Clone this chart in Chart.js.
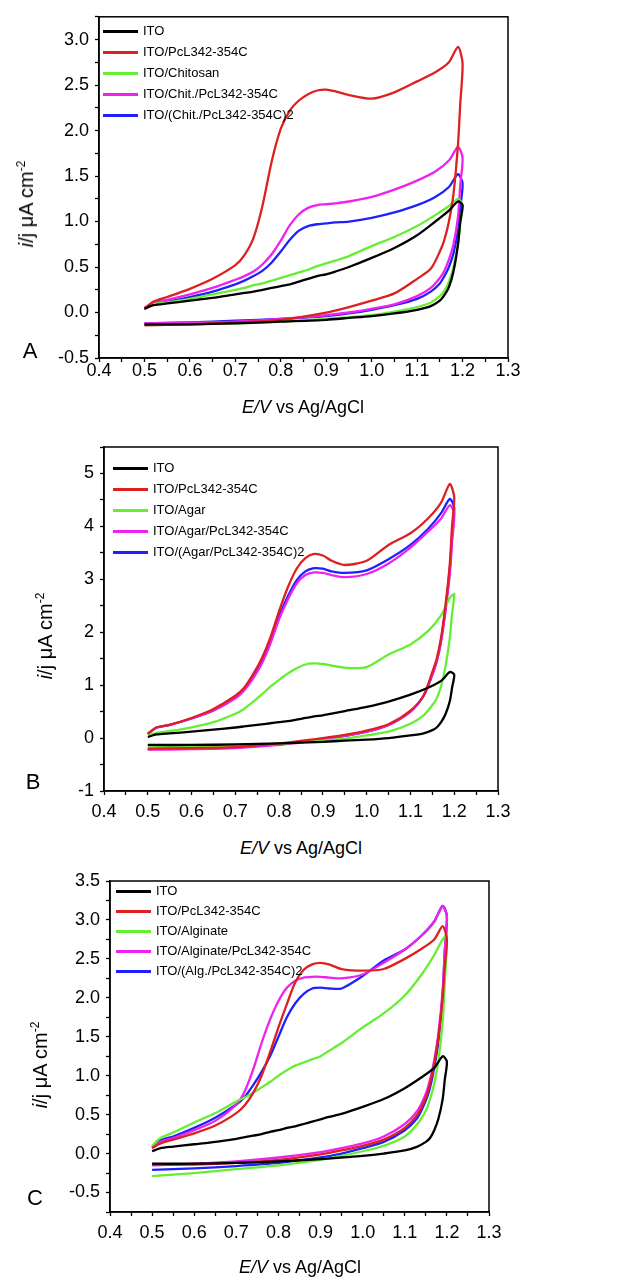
<!DOCTYPE html>
<html>
<head>
<meta charset="utf-8">
<script src="https://cdn.jsdelivr.net/npm/chart.js@4.4.1/dist/chart.umd.min.js"></script>
<style>
  body { margin: 0; background: #fff; width: 617px; height: 1278px; position: relative; overflow: hidden;
         font-family: Arial, "Liberation Sans", sans-serif; color: #000; }
  canvas { position: absolute; left: 0; }
  .txt { position: absolute; white-space: nowrap; line-height: 1; }
  .leg { position: absolute; font-size: 13px; white-space: nowrap; line-height: 1; }
  .leg span { position: absolute; top: -1.5px; height: 3px; width: 35px; left: 0; }
  .leg b { font-weight: normal; position: absolute; left: 40px; top: -7px; }
  sup { font-size: 12px; vertical-align: 8px; line-height: 0; }
</style>
</head>
<body>
<canvas id="cvA" width="617" height="400" style="top:0px"></canvas>
<canvas id="cvB" width="617" height="410" style="top:420px"></canvas>
<canvas id="cvC" width="617" height="400" style="top:860px"></canvas>
<script>
// potential of each point: forward scan 0.5 -> 1.2 V, then reverse scan back to 0.5 V
var forwardE = [0.50, 0.52, 0.55, 0.60, 0.65, 0.70, 0.72, 0.74, 0.76, 0.78, 0.80, 0.82, 0.84, 0.86, 0.88, 0.90, 0.92, 0.95, 1.00, 1.05, 1.10, 1.14, 1.17, 1.19, 1.20];
var reverseE = [1.195, 1.19, 1.18, 1.17, 1.16, 1.15, 1.13, 1.10, 1.05, 1.00, 0.95, 0.90, 0.80, 0.70, 0.60, 0.50];

var seriesColors = ["#000000", "#dd2020", "#66ee33", "#ee22ee", "#2020ff"];

// ---- panel A (chitosan) ----
var labelsA = ["ITO", "ITO/PcL342-354C", "ITO/Chitosan", "ITO/Chit./PcL342-354C", "ITO/(Chit./PcL342-354C)2"];
var itoA_fwd = [0.04, 0.08, 0.10, 0.13, 0.16, 0.20, 0.215, 0.23, 0.25, 0.27, 0.29, 0.31, 0.34, 0.37, 0.40, 0.42, 0.45, 0.50, 0.60, 0.71, 0.85, 1.00, 1.12, 1.22, 1.18];
var itoA_rev = [1.00, 0.75, 0.45, 0.28, 0.19, 0.13, 0.07, 0.03, -0.01, -0.04, -0.06, -0.08, -0.10, -0.12, -0.13, -0.13];
var pclA_fwd = [0.04, 0.12, 0.17, 0.26, 0.37, 0.52, 0.63, 0.82, 1.18, 1.66, 2.02, 2.22, 2.33, 2.40, 2.44, 2.45, 2.43, 2.39, 2.35, 2.42, 2.54, 2.64, 2.75, 2.92, 2.74];
var pclA_rev = [2.30, 1.85, 1.30, 1.00, 0.80, 0.67, 0.48, 0.37, 0.21, 0.13, 0.06, 0.00, -0.08, -0.11, -0.13, -0.14];
var chitA_fwd = [0.04, 0.09, 0.11, 0.15, 0.20, 0.25, 0.27, 0.30, 0.32, 0.35, 0.38, 0.41, 0.44, 0.47, 0.51, 0.54, 0.57, 0.62, 0.73, 0.83, 0.95, 1.07, 1.17, 1.25, 1.18];
var chitA_rev = [0.98, 0.75, 0.50, 0.34, 0.24, 0.18, 0.11, 0.06, 0.01, -0.03, -0.05, -0.07, -0.10, -0.12, -0.13, -0.13];
var chitPclA_fwd = [0.05, 0.11, 0.14, 0.20, 0.27, 0.36, 0.40, 0.45, 0.53, 0.64, 0.79, 0.96, 1.08, 1.15, 1.18, 1.19, 1.20, 1.22, 1.27, 1.35, 1.45, 1.55, 1.67, 1.82, 1.70];
var chitPclA_rev = [1.40, 1.05, 0.75, 0.58, 0.46, 0.38, 0.27, 0.18, 0.09, 0.04, 0.00, -0.03, -0.07, -0.10, -0.11, -0.12];
var chitPcl2A_fwd = [0.04, 0.09, 0.12, 0.17, 0.23, 0.31, 0.35, 0.40, 0.46, 0.55, 0.67, 0.80, 0.90, 0.95, 0.97, 0.98, 0.99, 1.00, 1.04, 1.10, 1.18, 1.27, 1.38, 1.52, 1.42];
var chitPcl2A_rev = [1.15, 0.90, 0.65, 0.50, 0.40, 0.32, 0.23, 0.15, 0.08, 0.03, -0.01, -0.04, -0.07, -0.09, -0.11, -0.12];

// ---- panel B (agar) ----
var labelsB = ["ITO", "ITO/PcL342-354C", "ITO/Agar", "ITO/Agar/PcL342-354C", "ITO/(Agar/PcL342-354C)2"];
var itoB_fwd = [0.02, 0.07, 0.09, 0.12, 0.16, 0.20, 0.22, 0.24, 0.26, 0.28, 0.30, 0.32, 0.35, 0.38, 0.41, 0.43, 0.46, 0.51, 0.59, 0.69, 0.82, 0.95, 1.08, 1.25, 1.20];
var itoB_rev = [0.95, 0.70, 0.45, 0.30, 0.20, 0.15, 0.09, 0.05, 0.00, -0.03, -0.05, -0.07, -0.10, -0.12, -0.13, -0.13];
var pclB_fwd = [0.08, 0.20, 0.25, 0.38, 0.55, 0.80, 0.95, 1.20, 1.50, 1.90, 2.40, 2.85, 3.20, 3.40, 3.48, 3.45, 3.35, 3.27, 3.35, 3.65, 3.87, 4.15, 4.45, 4.80, 4.55];
var pclB_rev = [4.00, 3.30, 2.50, 1.90, 1.50, 1.25, 0.80, 0.52, 0.26, 0.14, 0.06, 0.00, -0.10, -0.17, -0.19, -0.20];
var agarB_fwd = [0.05, 0.10, 0.13, 0.20, 0.30, 0.46, 0.55, 0.68, 0.82, 0.97, 1.10, 1.22, 1.32, 1.39, 1.41, 1.40, 1.37, 1.33, 1.34, 1.58, 1.77, 2.02, 2.32, 2.65, 2.72];
var agarB_rev = [2.35, 1.90, 1.35, 0.98, 0.75, 0.62, 0.43, 0.27, 0.12, 0.05, -0.01, -0.05, -0.11, -0.14, -0.15, -0.16];
var agarPclB_fwd = [0.08, 0.20, 0.25, 0.37, 0.52, 0.75, 0.90, 1.12, 1.40, 1.78, 2.25, 2.62, 2.92, 3.08, 3.13, 3.12, 3.08, 3.04, 3.10, 3.30, 3.60, 3.90, 4.15, 4.40, 4.25];
var agarPclB_rev = [3.70, 3.10, 2.40, 1.82, 1.45, 1.20, 0.80, 0.50, 0.25, 0.12, 0.04, -0.03, -0.13, -0.19, -0.21, -0.22];
var agarPcl2B_fwd = [0.08, 0.20, 0.25, 0.37, 0.52, 0.76, 0.92, 1.15, 1.45, 1.83, 2.30, 2.68, 2.98, 3.15, 3.21, 3.20, 3.15, 3.12, 3.17, 3.38, 3.65, 3.95, 4.25, 4.52, 4.35];
var agarPcl2B_rev = [3.80, 3.20, 2.45, 1.85, 1.45, 1.20, 0.80, 0.50, 0.25, 0.12, 0.04, -0.02, -0.12, -0.18, -0.20, -0.21];

// ---- panel C (alginate) ----
var labelsC = ["ITO", "ITO/PcL342-354C", "ITO/Alginate", "ITO/Alginate/PcL342-354C", "ITO/(Alg./PcL342-354C)2"];
var itoC_fwd = [0.03, 0.07, 0.09, 0.12, 0.15, 0.19, 0.21, 0.23, 0.25, 0.28, 0.30, 0.33, 0.35, 0.38, 0.41, 0.44, 0.47, 0.51, 0.60, 0.70, 0.84, 0.98, 1.10, 1.25, 1.18];
var itoC_rev = [0.95, 0.70, 0.45, 0.30, 0.20, 0.15, 0.09, 0.04, 0.00, -0.03, -0.05, -0.07, -0.10, -0.12, -0.13, -0.13];
var pclC_fwd = [0.07, 0.13, 0.18, 0.26, 0.36, 0.52, 0.62, 0.78, 1.00, 1.30, 1.62, 1.92, 2.20, 2.36, 2.43, 2.45, 2.43, 2.37, 2.35, 2.37, 2.50, 2.63, 2.75, 2.92, 2.75];
var pclC_rev = [2.40, 2.00, 1.50, 1.15, 0.90, 0.72, 0.50, 0.33, 0.18, 0.10, 0.04, -0.01, -0.08, -0.12, -0.14, -0.14];
var algC_fwd = [0.10, 0.20, 0.27, 0.40, 0.52, 0.67, 0.72, 0.78, 0.85, 0.92, 1.00, 1.07, 1.13, 1.17, 1.21, 1.25, 1.32, 1.42, 1.62, 1.80, 2.03, 2.30, 2.55, 2.75, 2.80];
var algC_rev = [2.20, 1.70, 1.20, 0.90, 0.70, 0.55, 0.38, 0.22, 0.10, 0.03, -0.03, -0.08, -0.15, -0.20, -0.25, -0.29];
var algPclC_fwd = [0.08, 0.15, 0.20, 0.30, 0.42, 0.63, 0.80, 1.08, 1.42, 1.72, 1.96, 2.13, 2.22, 2.26, 2.27, 2.27, 2.26, 2.25, 2.30, 2.45, 2.62, 2.80, 2.98, 3.18, 3.05];
var algPclC_rev = [2.60, 2.10, 1.55, 1.20, 0.95, 0.77, 0.55, 0.38, 0.22, 0.13, 0.07, 0.02, -0.05, -0.10, -0.13, -0.15];
var algPcl2C_fwd = [0.08, 0.17, 0.22, 0.33, 0.46, 0.63, 0.73, 0.88, 1.05, 1.25, 1.50, 1.75, 1.93, 2.05, 2.12, 2.13, 2.12, 2.12, 2.28, 2.48, 2.62, 2.80, 2.98, 3.18, 3.05];
var algPcl2C_rev = [2.60, 2.05, 1.45, 1.10, 0.85, 0.68, 0.46, 0.30, 0.15, 0.07, 0.00, -0.05, -0.12, -0.16, -0.19, -0.21];

function toPoints(fwd, rev) {
  var pts = [];
  forwardE.forEach((e, i) => pts.push({ x: e, y: fwd[i] }));
  reverseE.forEach((e, i) => pts.push({ x: e, y: rev[i] }));
  return pts;
}

function isMult(v, step) {
  var r = v / step;
  return Math.abs(r - Math.round(r)) < 1e-6;
}

// box round the plot area
var framePlugin = {
  id: "frame",
  afterDatasetsDraw(chart) {
    var a = chart.chartArea, ctx = chart.ctx;
    ctx.save();
    ctx.strokeStyle = "#000";
    ctx.lineWidth = 1.5;
    ctx.strokeRect(a.left, a.top, a.right - a.left, a.bottom - a.top);
    ctx.restore();
  },
};

function build_panel(id, labels, curves, p) {
  var datasets = labels.map((lab, i) => ({
    label: lab,
    data: toPoints(curves[i][0], curves[i][1]),
    borderColor: seriesColors[i],
    borderWidth: 2.3,
    pointRadius: 0,
    showLine: true,
    fill: false,
    tension: 0.25,
  }));

  var tickFont = { size: 18, family: "Arial, 'Liberation Sans', sans-serif" };

  new Chart(document.getElementById(id), {
    type: "scatter",
    data: { datasets: datasets },
    plugins: [framePlugin],
    options: {
      responsive: false,
      animation: false,
      devicePixelRatio: 1,
      layout: { autoPadding: false, padding: { left: 0, top: p.padTop, right: p.padRight, bottom: 0 } },
      plugins: { legend: { display: false }, tooltip: { enabled: false } },
      scales: {
        x: {
          type: "linear",
          min: 0.4,
          max: 1.3,
          afterFit: (s) => { s.height = p.xHeight; },
          border: { color: "#000", width: 1.5 },
          grid: { drawOnChartArea: false, tickLength: 4, tickColor: "#000", tickWidth: 1.3 },
          ticks: {
            stepSize: 0.05, autoSkip: false, maxRotation: 0, color: "#000", font: tickFont, padding: p.xPad,
            callback: (v) => (isMult(v, 0.1) ? v.toFixed(1) : ""),
          },
        },
        y: {
          type: "linear",
          min: p.yMin,
          max: p.yMax,
          afterFit: (s) => { s.width = p.yWidth; },
          border: { color: "#000", width: 1.5 },
          grid: { drawOnChartArea: false, tickLength: 4, tickColor: "#000", tickWidth: 1.3 },
          ticks: {
            stepSize: p.yMinor, autoSkip: false, color: "#000", font: tickFont, padding: 6,
            callback: (v) => (isMult(v, p.yMajor) ? v.toFixed(p.yDigits) : ""),
          },
        },
      },
    },
  });
}

build_panel("cvA", labelsA, [
  [itoA_fwd, itoA_rev], [pclA_fwd, pclA_rev], [chitA_fwd, chitA_rev],
  [chitPclA_fwd, chitPclA_rev], [chitPcl2A_fwd, chitPcl2A_rev],
], { padTop: 15, padRight: 109, yWidth: 99, xHeight: 42, xPad: -2, yMin: -0.5, yMax: 3.25, yMinor: 0.25, yMajor: 0.5, yDigits: 1 });

build_panel("cvB", labelsB, [
  [itoB_fwd, itoB_rev], [pclB_fwd, pclB_rev], [agarB_fwd, agarB_rev],
  [agarPclB_fwd, agarPclB_rev], [agarPcl2B_fwd, agarPcl2B_rev],
], { padTop: 27, padRight: 119, yWidth: 104, xHeight: 39, xPad: 6, yMin: -1, yMax: 5.5, yMinor: 0.5, yMajor: 1, yDigits: 0 });

build_panel("cvC", labelsC, [
  [itoC_fwd, itoC_rev], [pclC_fwd, pclC_rev], [algC_fwd, algC_rev],
  [algPclC_fwd, algPclC_rev], [algPcl2C_fwd, algPcl2C_rev],
], { padTop: 21, padRight: 128, yWidth: 110, xHeight: 48, xPad: 6, yMin: -0.75, yMax: 3.5, yMinor: 0.25, yMajor: 0.5, yDigits: 1 });

// legends, axis titles and panel letters as page text
function addText(html, css) {
  var d = document.createElement("div");
  d.className = "txt";
  d.innerHTML = html;
  Object.assign(d.style, css);
  document.body.appendChild(d);
  return d;
}

function addLegend(labels, left, top, step) {
  labels.forEach((lab, i) => {
    var row = document.createElement("div");
    row.className = "leg";
    row.style.left = left + "px";
    row.style.top = top + i * step + "px";
    row.innerHTML = '<span style="background:' + seriesColors[i] + '"></span><b>' + lab + "</b>";
    document.body.appendChild(row);
  });
}

addLegend(labelsA, 103, 31, 21);
addLegend(labelsB, 113, 468, 21);
addLegend(labelsC, 116, 891, 20);

var xTitle = "<i>E/V</i> vs Ag/AgCl";
var yTitle = "<i>i</i>/j &mu;A cm<sup>-2</sup>";
[[303, 407], [301, 848], [300, 1267]].forEach((c) => {
  addText(xTitle, { left: c[0] + "px", top: c[1] + "px", fontSize: "18px", transform: "translate(-50%,-50%)" });
});
[[26, 204], [45, 636], [40, 1065]].forEach((c) => {
  addText(yTitle, { left: c[0] + "px", top: c[1] + "px", fontSize: "20px", transform: "translate(-50%,-50%) rotate(-90deg)" });
});
[["A", 30, 351], ["B", 33, 782], ["C", 35, 1198]].forEach((c) => {
  addText(c[0], { left: c[1] + "px", top: c[2] + "px", fontSize: "22px", transform: "translate(-50%,-50%)" });
});
</script>
</body>
</html>
